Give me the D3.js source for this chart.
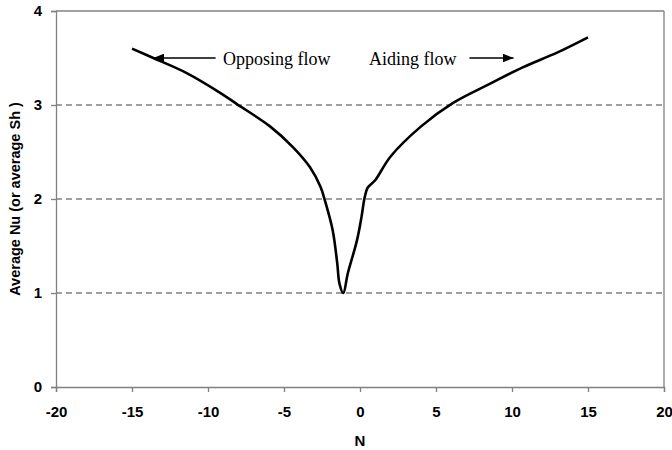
<!DOCTYPE html>
<html><head><meta charset="utf-8">
<script src="https://cdn.jsdelivr.net/npm/d3@7"></script>
<style>body{margin:0;background:#fff}svg{display:block}</style>
</head><body>
<script>
const xTicks = [-20,-15,-10,-5,0,5,10,15,20];
const yTicks = [0,1,2,3,4];
const gridValues = [1,2,3];
const curveN  = [-15,-13.6,-11.4,-9.2,-8.1,-5.9,-4.4,-3.3,-2.6,-2.3,-1.8,-1.5,-1.35,-1.1,-0.8,-0.2,0.1,0.3,0.5,1.0,2.0,4.0,6.1,8.6,10.7,13.0,15.0];
const curveNu = [3.60,3.50,3.34,3.13,3.01,2.77,2.55,2.34,2.13,1.98,1.67,1.32,1.10,1.00,1.21,1.56,1.81,2.01,2.12,2.20,2.45,2.77,3.02,3.23,3.40,3.56,3.72];

const W=672,H=450, L=56, R=664, T=11, B=387;
const svg=d3.select("body").append("svg").attr("width",W).attr("height",H);
const x=d3.scaleLinear().domain([-20,20]).range([L,R]);
const y=d3.scaleLinear().domain([0,4]).range([B,T]);
const axisColor="#808080";

svg.selectAll(".grid").data(gridValues).enter().append("line")
 .attr("x1",L).attr("x2",R).attr("y1",d=>y(d)).attr("y2",d=>y(d))
 .attr("stroke","#808080").attr("stroke-width",1.3).attr("stroke-dasharray","6,4");

svg.append("line").attr("x1",L).attr("x2",R).attr("y1",T).attr("y2",T).attr("stroke",axisColor).attr("stroke-width",1.3);
svg.append("line").attr("x1",R).attr("x2",R).attr("y1",T).attr("y2",B).attr("stroke",axisColor).attr("stroke-width",1.3);

const fontAx="'Liberation Sans', Arial, sans-serif";
const fmt=d=>String(d);
const gx=svg.append("g").attr("transform",`translate(0,${B})`)
 .call(d3.axisBottom(x).tickValues(xTicks).tickSize(5).tickPadding(14).tickFormat(fmt));
const gy=svg.append("g").attr("transform",`translate(${L},0)`)
 .call(d3.axisLeft(y).tickValues(yTicks).tickSize(5).tickPadding(9).tickFormat(fmt));
[gx,gy].forEach(g=>{
 g.select(".domain").attr("stroke",axisColor).attr("stroke-width",1.3);
 g.selectAll(".tick line").attr("stroke",axisColor).attr("stroke-width",1.3);
 g.selectAll(".tick text").attr("fill","#000").style("font-family",fontAx).style("font-weight","bold").style("font-size","15px");
});

svg.append("text").attr("x",(L+R)/2).attr("y",446).attr("text-anchor","middle")
 .style("font-family",fontAx).style("font-weight","bold").style("font-size","15px").text("N");
svg.append("text").attr("transform",`translate(20,${(T+B)/2}) rotate(-90)`).attr("text-anchor","middle")
 .style("font-family",fontAx).style("font-weight","bold").style("font-size","14.5px").text("Average Nu (or average Sh )");

const pts=curveN.map((n,i)=>[n,curveNu[i]]);
svg.append("path").datum(pts)
 .attr("d",d3.line().x(d=>x(d[0])).y(d=>y(d[1])).curve(d3.curveCatmullRom.alpha(0.5)))
 .attr("fill","none").attr("stroke","#000").attr("stroke-width",2.6).attr("stroke-linejoin","round");

svg.append("defs").append("marker").attr("id","ah").attr("viewBox","0 0 10 8")
 .attr("refX",10).attr("refY",4).attr("markerWidth",11).attr("markerHeight",9)
 .attr("markerUnits","userSpaceOnUse").attr("orient","auto")
 .append("path").attr("d","M0,0L10,4L0,8Z").attr("fill","#000");
const fontSerif="'Liberation Serif','Times New Roman',serif";
const ay=58;
svg.append("line").attr("x1",x(-9.5)).attr("x2",x(-13.6)).attr("y1",ay).attr("y2",ay)
 .attr("stroke","#000").attr("stroke-width",1.5).attr("marker-end","url(#ah)");
svg.append("text").attr("x",223).attr("y",65).style("font-family",fontSerif).style("font-size","18px").text("Opposing flow");
svg.append("text").attr("x",369).attr("y",65).style("font-family",fontSerif).style("font-size","18px").text("Aiding flow");
svg.append("line").attr("x1",x(7.2)).attr("x2",x(10.1)).attr("y1",ay).attr("y2",ay)
 .attr("stroke","#000").attr("stroke-width",1.5).attr("marker-end","url(#ah)");
</script>
</body></html>
